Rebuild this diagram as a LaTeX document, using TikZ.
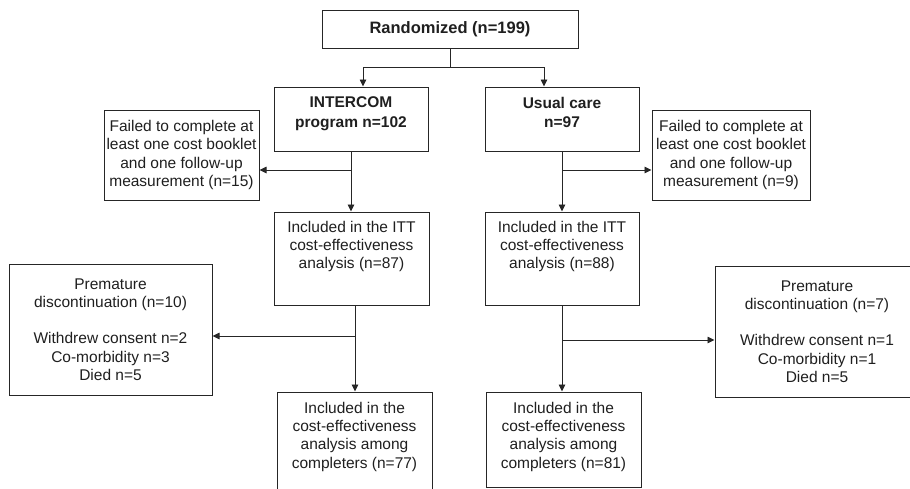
\documentclass[tikz,border=0pt]{standalone}
\usepackage{fontspec}
\setmainfont{Liberation Sans}
\usetikzlibrary{arrows.meta}
\newcommand\fbx[5]{\parbox[c][#2][#3]{#1}{\centering\vspace*{#4}#5\par}}
\tikzset{
  flowbox/.style={draw=black!85, line width=1pt, rectangle, inner sep=0pt, text=black!88,
     font=\fontsize{15.5}{18.3}\selectfont},
  link/.style={draw=black!85, line width=0.9pt},
  arr/.style={link, -{Triangle[length=7pt,width=6.5pt]}}
}
\begin{document}
\begin{tikzpicture}[x=1pt,y=-1pt]
\useasboundingbox (0,0) rectangle (910,488);
\node[flowbox] (rand) at (450,29) {\fbx{256pt}{38pt}{c}{0pt}{\fontsize{16.5}{19}\selectfont\bfseries Randomized (n=199)}};
\node[flowbox] (inter) at (351,119) {\fbx{154pt}{64pt}{t}{10pt}{\fontsize{15.5}{19.5}\selectfont\bfseries INTERCOM\\program n=102}};
\node[flowbox] (usual) at (562,119) {\fbx{154pt}{64pt}{t}{10pt}{\fontsize{15.5}{19.5}\selectfont\bfseries Usual care\\n=97}};
\node[flowbox] (failL) at (181.5,155) {\fbx{155pt}{90pt}{c}{0pt}{Failed to complete at\\least one cost booklet\\and one follow-up\\measurement (n=15)}};
\node[flowbox] (failR) at (731,155) {\fbx{158pt}{90pt}{c}{0pt}{Failed to complete at\\least one cost booklet\\and one follow-up\\measurement (n=9)}};
\node[flowbox] (ittL) at (351.5,258.5) {\fbx{155pt}{93pt}{t}{9pt}{Included in the ITT\\cost-effectiveness\\analysis (n=87)}};
\node[flowbox] (ittR) at (562,258.5) {\fbx{154pt}{93pt}{t}{9pt}{Included in the ITT\\cost-effectiveness\\analysis (n=88)}};
\node[flowbox] (premL) at (110.5,329.5) {\fbx{203pt}{131pt}{c}{0pt}{Premature\\discontinuation (n=10)\\[18.3pt]Withdrew consent n=2\\Co-morbidity n=3\\Died n=5}};
\node[flowbox] (premR) at (817,331.5) {\fbx{204pt}{131pt}{c}{0pt}{Premature\\discontinuation (n=7)\\[18.3pt]Withdrew consent n=1\\Co-morbidity n=1\\Died n=5}};
\node[flowbox] (complL) at (354.5,441) {\fbx{155pt}{98pt}{t}{10pt}{Included in the\\cost-effectiveness\\analysis among\\completers (n=77)}};
\node[flowbox] (complR) at (563.5,439.5) {\fbx{155pt}{95pt}{t}{10pt}{Included in the\\cost-effectiveness\\analysis among\\completers (n=81)}};
% connectors
\coordinate (j0) at (450,67);
\coordinate (jL) at (363,67);
\coordinate (jR) at (544,67);
\draw[link] (rand.south) -- (j0);
\draw[link] (jL) -- (jR);
\draw[arr] (jL) -- (jL |- inter.north);
\draw[arr] (jR) -- (jR |- usual.north);
\coordinate (bL) at (351,170);
\coordinate (bR) at (562,170);
\draw[arr] (inter.south) -- (inter.south |- ittL.north);
\draw[arr] (bL) -- (bL -| failL.east);
\draw[arr] (usual.south) -- (usual.south |- ittR.north);
\draw[arr] (bR) -- (bR -| failR.west);
\coordinate (cL) at (355,336);
\coordinate (cR) at (562,340);
\draw[arr] (cL |- ittL.south) -- (cL |- complL.north);
\draw[arr] (cL) -- (cL -| premL.east);
\draw[arr] (ittR.south) -- (ittR.south |- complR.north);
\draw[arr] (cR) -- (cR -| premR.west);
\end{tikzpicture}
\end{document}
